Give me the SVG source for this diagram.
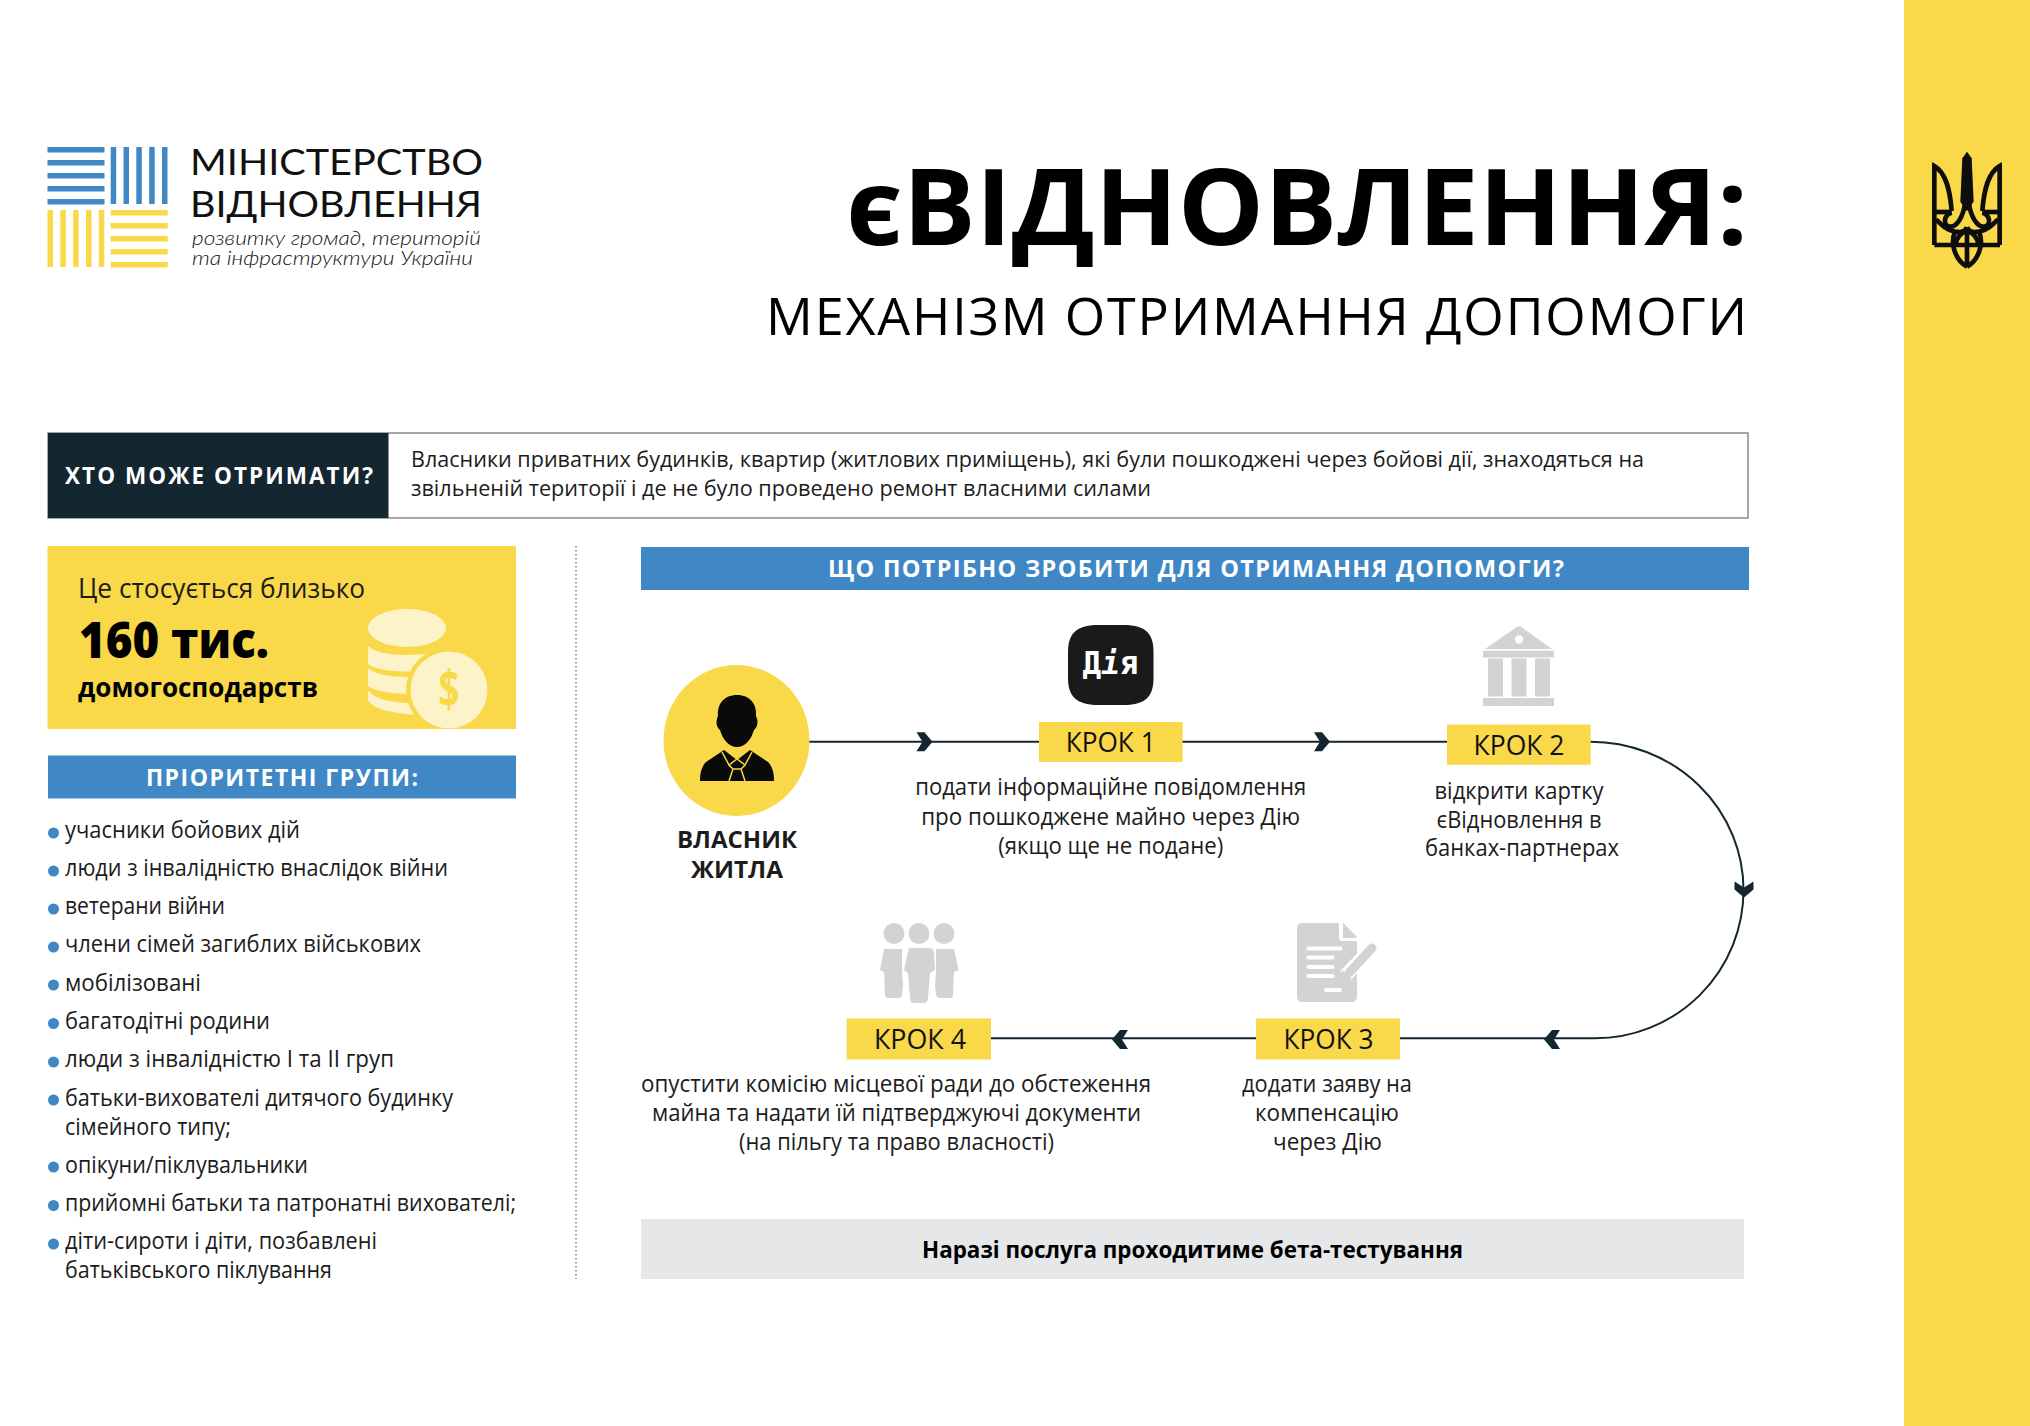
<svg xmlns="http://www.w3.org/2000/svg" xmlns:xlink="http://www.w3.org/1999/xlink" width="2030" height="1426" viewBox="0 0 2030 1426">
<defs>
<style>
text{font-family:"Open Sans","Liberation Sans",sans-serif;fill:#1c1c1c}
.b{font-weight:700}
.x{font-weight:800}
.w{fill:#fff}
.k{fill:#000}
.c{text-anchor:middle}
.li{font-size:24px}
.st{font-size:24px;text-anchor:middle}
.st2{font-size:23px;text-anchor:middle}
.kr{font-size:28px;text-anchor:middle;fill:#111}
.logo{font-family:Lato,"Open Sans",sans-serif;fill:#111}
.lsm{font-weight:300;font-style:italic;font-size:20px}
.y{fill:#f9d849}
.bl{fill:#3f87c5}
.g{fill:#d1d3d4}
.dot{fill:#3f87c5}
.wire{fill:none;stroke:#14262f;stroke-width:2}
.tri{fill:none;stroke:#0e0e0e;stroke-width:14}
</style>
<clipPath id="panel-clip"><rect x="47.500" y="546" width="468.500" height="183"/></clipPath>
<path id="chev" fill="#14262f" d="M-8 -9.5H0L8 0L0 9.5H-8L-2 0Z"/>
<g id="tr-half">
<path class="tri" d="M103 345V108C138 128 150 180 155 243"/>
<path class="tri" d="M105 246H155"/>
<path class="tri" d="M195 220C190 260 170 292 150 290C128 288 130 255 155 248"/>
<path class="tri" d="M108 268C125 285 140 300 165 305C185 308 195 305 201 292"/>
<path class="tri" d="M165 305C150 340 165 390 201 410"/>
<path class="tri" d="M201 304C180 308 170 325 166 345"/>
</g>
</defs>
<rect width="2030" height="1426" fill="#fff"/>
<rect id="side-band" class="y" x="1904" y="0" width="126" height="1426"/>

<g id="trident" transform="translate(1900 130) scale(.3333)">
<path fill="#0e0e0e" d="M201 65L215 85L221 215L201 244L181 215L187 85Z"/>
<use xlink:href="#tr-half" href="#tr-half"/>
<use xlink:href="#tr-half" href="#tr-half" transform="translate(402 0) scale(-1 1)"/>
<path class="tri" d="M103 345H300M201 292V412"/>
</g>

<g id="logo">
<g class="bl">
<rect x="47.5" y="147" width="57" height="5.5"/><rect x="47.5" y="160" width="57" height="5.5"/><rect x="47.5" y="173" width="57" height="5.5"/><rect x="47.5" y="186" width="57" height="5.5"/><rect x="47.5" y="199" width="57" height="5.5"/>
<rect x="110.7" y="147" width="5.5" height="57"/><rect x="123.5" y="147" width="5.5" height="57"/><rect x="136.3" y="147" width="5.5" height="57"/><rect x="149.2" y="147" width="5.5" height="57"/><rect x="162" y="147" width="5.5" height="57"/>
</g>
<g class="y">
<rect x="47.5" y="210" width="5.5" height="57"/><rect x="60.3" y="210" width="5.5" height="57"/><rect x="73.1" y="210" width="5.5" height="57"/><rect x="86" y="210" width="5.5" height="57"/><rect x="98.8" y="210" width="5.5" height="57"/>
<rect x="110.7" y="210" width="57" height="5.5"/><rect x="110.7" y="223" width="57" height="5.5"/><rect x="110.7" y="236" width="57" height="5.5"/><rect x="110.7" y="249" width="57" height="5.5"/><rect x="110.7" y="262" width="57" height="5.5"/>
</g>
<text class="logo" x="190" y="175" font-size="37" textLength="293" lengthAdjust="spacingAndGlyphs">МІНІСТЕРСТВО</text>
<text class="logo" x="190" y="217" font-size="37" textLength="292" lengthAdjust="spacingAndGlyphs">ВІДНОВЛЕННЯ</text>
<text class="logo lsm" x="192" y="245" textLength="289" lengthAdjust="spacingAndGlyphs">розвитку громад, територій</text>
<text class="logo lsm" x="192" y="265" textLength="281" lengthAdjust="spacingAndGlyphs">та інфраструктури України</text>
</g>

<g id="title">
<text class="b k" x="846" y="244.500" font-size="105" textLength="902" lengthAdjust="spacingAndGlyphs">єВІДНОВЛЕННЯ:</text>
<text class="k" x="766" y="335" font-size="52" textLength="981" lengthAdjust="spacing">МЕХАНІЗМ ОТРИМАННЯ ДОПОМОГИ</text>
</g>

<g id="who">
<rect x="48" y="433" width="1700" height="85" fill="#fff" stroke="#8a8a8a" stroke-width="1.5"/>
<rect x="48" y="433" width="340.500" height="85" fill="#14262f"/>
<text class="b w" x="65" y="484" font-size="22.500" textLength="308" lengthAdjust="spacing">ХТО МОЖЕ ОТРИМАТИ?</text>
<text x="411" y="467" font-size="22.500" textLength="1233" lengthAdjust="spacingAndGlyphs">Власники приватних будинків, квартир (житлових приміщень), які були пошкоджені через бойові дії, знаходяться на</text>
<text x="411" y="496" font-size="22.500" textLength="740" lengthAdjust="spacingAndGlyphs">звільненій території і де не було проведено ремонт власними силами</text>
</g>

<g id="stat">
<rect class="y" x="47.500" y="546" width="468.500" height="183"/>
<text x="78" y="598" font-size="28" textLength="287" lengthAdjust="spacingAndGlyphs">Це стосується близько</text>
<text class="x k" x="79" y="658" font-size="50" textLength="190" lengthAdjust="spacingAndGlyphs">160 тис.</text>
<text class="b k" x="78" y="697" font-size="27" textLength="240" lengthAdjust="spacingAndGlyphs">домогосподарств</text>
<g fill="#fdf3c9">
<ellipse cx="407" cy="628" rx="39" ry="19"/>
<path d="M368 646C380 658 434 658 446 646V664C434 674 380 674 368 664Z"/>
<path d="M368 668C380 680 434 680 446 668V688C434 696 380 696 368 686Z"/>
<path d="M368 690C376 702 400 704 446 704V716C400 716 372 710 368 700Z"/>
</g>
<g clip-path="url(#panel-clip)">
<circle class="y" cx="449" cy="690" r="43"/>
<circle cx="449" cy="690" r="38.500" fill="#fdf3c9"/>
</g>
<text class="b c y" x="449" y="708" font-size="52" textLength="21" lengthAdjust="spacingAndGlyphs">$</text>
</g>

<g id="groups">
<rect class="bl" x="48" y="755.500" width="468" height="43"/>
<text class="b w c" x="282" y="785.500" font-size="23" textLength="272" lengthAdjust="spacing">ПРІОРИТЕТНІ ГРУПИ:</text>
<g class="dot">
<circle cx="53.500" cy="833" r="5.500"/><circle cx="53.500" cy="871" r="5.500"/><circle cx="53.500" cy="909" r="5.500"/><circle cx="53.500" cy="947" r="5.500"/><circle cx="53.500" cy="985" r="5.500"/><circle cx="53.500" cy="1023.500" r="5.500"/><circle cx="53.500" cy="1062" r="5.500"/><circle cx="53.500" cy="1100" r="5.500"/><circle cx="53.500" cy="1167" r="5.500"/><circle cx="53.500" cy="1205.500" r="5.500"/><circle cx="53.500" cy="1244" r="5.500"/>
</g>
<text class="li" x="65" y="837.500" textLength="235" lengthAdjust="spacingAndGlyphs">учасники бойових дій</text>
<text class="li" x="65" y="875.500" textLength="383" lengthAdjust="spacingAndGlyphs">люди з інвалідністю внаслідок війни</text>
<text class="li" x="65" y="914" textLength="160" lengthAdjust="spacingAndGlyphs">ветерани війни</text>
<text class="li" x="65" y="952" textLength="356" lengthAdjust="spacingAndGlyphs">члени сімей загиблих військових</text>
<text class="li" x="65" y="990.500" textLength="136" lengthAdjust="spacingAndGlyphs">мобілізовані</text>
<text class="li" x="65" y="1029" textLength="205" lengthAdjust="spacingAndGlyphs">багатодітні родини</text>
<text class="li" x="65" y="1067" textLength="329" lengthAdjust="spacingAndGlyphs">люди з інвалідністю I та II груп</text>
<text class="li" x="65" y="1105.500" textLength="388" lengthAdjust="spacingAndGlyphs">батьки-вихователі дитячого будинку</text>
<text class="li" x="65" y="1135" textLength="166" lengthAdjust="spacingAndGlyphs">сімейного типу;</text>
<text class="li" x="65" y="1173" textLength="243" lengthAdjust="spacingAndGlyphs">опікуни/піклувальники</text>
<text class="li" x="65" y="1211" textLength="451" lengthAdjust="spacingAndGlyphs">прийомні батьки та патронатні вихователі;</text>
<text class="li" x="65" y="1249" textLength="312" lengthAdjust="spacingAndGlyphs">діти-сироти і діти, позбавлені</text>
<text class="li" x="65" y="1278" textLength="267" lengthAdjust="spacingAndGlyphs">батьківського піклування</text>
<line x1="576" y1="546" x2="576" y2="1279" stroke="#555" stroke-width="1.2" stroke-dasharray="1.500 2.500"/>
</g>

<g id="connectors">
<path class="wire" d="M809 741.700H1040M1182 741.700H1448"/>
<path class="wire" d="M1590 741.700A153 148.300 0 0 1 1743.500 890A148.500 148.300 0 0 1 1595 1038.300H1400M1256 1038.300H990"/>
<use xlink:href="#chev" href="#chev" transform="translate(924.500 741.700)"/>
<use xlink:href="#chev" href="#chev" transform="translate(1322 741.700)"/>
<use xlink:href="#chev" href="#chev" transform="translate(1744 889.500) rotate(90)"/>
<use xlink:href="#chev" href="#chev" transform="translate(1552 1039.500) rotate(180)"/>
<use xlink:href="#chev" href="#chev" transform="translate(1120 1039.500) rotate(180)"/>
</g>

<g id="steps-header">
<rect class="bl" x="641" y="547" width="1108" height="43"/>
<text class="b w c" x="1196" y="577" font-size="23.500" textLength="736" lengthAdjust="spacing">ЩО ПОТРІБНО ЗРОБИТИ ДЛЯ ОТРИМАННЯ ДОПОМОГИ?</text>
</g>

<g id="owner">
<ellipse class="y" cx="736.500" cy="740.500" rx="73" ry="75.500"/>
<path fill="#0a0a0a" d="M737 695C750 695 757 704 756 716C759 722 757 728 754 730C751 740 745 747 737 747C729 747 723 740 720 730C717 728 715 722 718 716C717 704 724 695 737 695Z"/>
<path fill="#0a0a0a" d="M724 750L737 760L750 750L768 762C772 766 774 772 774 781H700C700 772 702 766 706 762Z"/>
<path fill="none" stroke="#f9d849" stroke-width="1.500" d="M722 752L729 765L737 759L745 765L752 752M729 765L737 759L745 765L741 769H733ZM733 769L729 781M741 769L745 781"/>
<text class="b c" x="737" y="848" font-size="24" textLength="120" lengthAdjust="spacingAndGlyphs">ВЛАСНИК</text>
<text class="b c" x="737" y="878" font-size="24" textLength="92" lengthAdjust="spacingAndGlyphs">ЖИТЛА</text>
</g>

<g id="step1">
<path fill="#1a1a1a" d="M1098 625H1124C1146 625 1153.500 634 1153.500 652V678C1153.500 696 1146 705 1124 705H1098C1076 705 1068 696 1068 678V652C1068 634 1076 625 1098 625Z"/>
<text class="c w" x="1110.500" y="674" font-size="32" textLength="56" lengthAdjust="spacingAndGlyphs" style="font-family:'DejaVu Sans Mono',monospace;font-weight:700">Д<tspan font-style="italic">і</tspan>я</text>
<rect class="y" x="1039" y="722" width="143.600" height="40"/>
<text class="kr" x="1110.700" y="751.700" textLength="90" lengthAdjust="spacingAndGlyphs">КРОК 1</text>
<text class="st" x="1110.700" y="795" textLength="391" lengthAdjust="spacingAndGlyphs">подати інформаційне повідомлення</text>
<text class="st" x="1110.700" y="824.500" textLength="379" lengthAdjust="spacingAndGlyphs">про пошкоджене майно через Дію</text>
<text class="st" x="1110.700" y="853.500" textLength="225" lengthAdjust="spacingAndGlyphs">(якщо ще не подане)</text>
</g>

<g id="step2">
<g class="g">
<path d="M1516 627.500Q1519 625 1522 627.500L1552 649H1485Z"/>
<rect x="1483" y="650.700" width="71" height="6.800"/>
<rect x="1488" y="658.500" width="15" height="38"/><rect x="1511.500" y="658.500" width="15" height="38"/><rect x="1535" y="658.500" width="15" height="38"/>
<rect x="1483" y="698" width="71" height="8"/>
</g>
<circle cx="1519" cy="639.500" r="4.200" fill="#fff"/>
<rect class="y" x="1447" y="724.500" width="143.700" height="40.300"/>
<text class="kr" x="1519" y="755" textLength="91" lengthAdjust="spacingAndGlyphs">КРОК 2</text>
<text class="st2" x="1519" y="799" textLength="169" lengthAdjust="spacingAndGlyphs">відкрити картку</text>
<text class="st2" x="1519" y="827.500" textLength="165" lengthAdjust="spacingAndGlyphs">єВідновлення в</text>
<text class="st2" x="1522" y="856" textLength="194" lengthAdjust="spacingAndGlyphs">банках-партнерах</text>
</g>

<g id="step3">
<path class="g" fill-rule="evenodd" d="M1302 923H1339V937C1339 940 1340 941 1343 941H1357V996C1357 1000 1355 1002 1351 1002H1302C1299 1002 1297 1000 1297 996V929C1297 925 1299 923 1302 923ZM1343 923L1357 938H1343Z"/>
<path class="g" d="M1343 923L1357 937H1343Z"/>
<g fill="#fff">
<rect x="1306.500" y="946.500" width="36" height="4" rx="2"/><rect x="1306.500" y="955.500" width="28" height="4" rx="2"/><rect x="1306.500" y="965" width="28" height="4" rx="2"/><rect x="1306.500" y="974" width="28" height="4" rx="2"/><rect x="1324" y="988" width="18" height="4" rx="2"/>
</g>
<path d="M1372 948L1345 976" stroke="#fff" stroke-width="14" fill="none"/>
<path d="M1372 948L1349 973" stroke="#d1d3d4" stroke-width="9" stroke-linecap="round" fill="none"/>
<path class="g" d="M1342 970L1352 979L1339 985Z"/>
<rect class="y" x="1256" y="1018.500" width="144" height="41"/>
<text class="kr" x="1328.500" y="1049" textLength="90" lengthAdjust="spacingAndGlyphs">КРОК 3</text>
<text class="st" x="1327" y="1092" textLength="170" lengthAdjust="spacingAndGlyphs">додати заяву на</text>
<text class="st" x="1327" y="1121" textLength="144" lengthAdjust="spacingAndGlyphs">компенсацію</text>
<text class="st" x="1327.500" y="1150" textLength="109" lengthAdjust="spacingAndGlyphs">через Дію</text>
</g>

<g id="step4">
<g class="g">
<circle cx="894" cy="933.500" r="10.500"/><circle cx="919" cy="933.500" r="10.500"/><circle cx="944" cy="933.500" r="10.500"/>
<path d="M884 949H902V972L903 985L902 994C902 997 900 998 898 998H888C886 998 885 997 885 994L884 972L880 970Z"/>
<path d="M954 949H936V972L935 985L936 994C936 997 938 998 940 998H950C952 998 953 997 953 994L954 972L958.500 970Z"/>
<path d="M909 948H929C932 948 934 950 934 953L935 970L930 973L928 998C928 1002 926 1003 924 1003H914C912 1003 910 1002 910 998L908 973L904 970Z"/>
</g>
<rect class="y" x="846.700" y="1018.500" width="144.300" height="41"/>
<text class="kr" x="920" y="1049" textLength="92" lengthAdjust="spacingAndGlyphs">КРОК 4</text>
<text class="st" x="896" y="1092" textLength="510" lengthAdjust="spacingAndGlyphs">опустити комісію місцевої ради до обстеження</text>
<text class="st" x="896.500" y="1121" textLength="489" lengthAdjust="spacingAndGlyphs">майна та надати їй підтверджуючі документи</text>
<text class="st" x="896.500" y="1150" textLength="315" lengthAdjust="spacingAndGlyphs">(на пільгу та право власності)</text>
</g>

<g id="note">
<rect x="641" y="1219" width="1103" height="60" fill="#e6e7e8"/>
<text class="b c k" x="1192.500" y="1258" font-size="24" textLength="541" lengthAdjust="spacingAndGlyphs">Наразі послуга проходитиме бета-тестування</text>
</g>
</svg>
